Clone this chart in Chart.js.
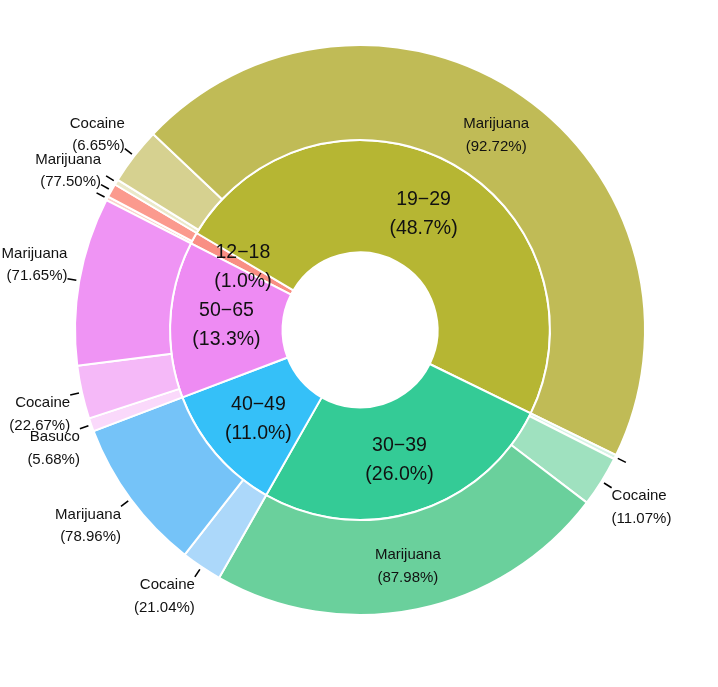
<!DOCTYPE html>
<html>
<head>
<meta charset="utf-8">
<script src="https://cdn.jsdelivr.net/npm/chart.js@4/dist/chart.umd.min.js"></script>
<style>
html,body{margin:0;padding:0;background:#ffffff;}
#wrap{width:718px;height:687px;position:relative;}
</style>
</head>
<body>
<div id="wrap"><canvas id="c" width="718" height="687"></canvas></div>
<script>
// ---- data ----
const ageGroups = ['12−18', '19−29', '30−39', '40−49', '50−65'];
const agePercents = [1.0, 48.7, 26.0, 11.0, 13.3];

const drugs_12_18 = ['Cocaine', 'Marijuana'];
const pct_12_18 = [22.50, 77.50];
const drugs_19_29 = ['Basuco', 'Cocaine', 'Marijuana'];
const pct_19_29 = [0.63, 6.65, 92.72];
const drugs_30_39 = ['Basuco', 'Cocaine', 'Marijuana'];
const pct_30_39 = [0.95, 11.07, 87.98];
const drugs_40_49 = ['Cocaine', 'Marijuana'];
const pct_40_49 = [21.04, 78.96];
const drugs_50_65 = ['Basuco', 'Cocaine', 'Marijuana'];
const pct_50_65 = [5.68, 22.67, 71.65];

// ---- styles ----
const innerColors = ['#f98f84', '#b6b633', '#34cb96', '#35c0f8', '#ee8bf3'];
const outerColors_12_18 = ['#fcd2cb', '#fb9a8e'];
const outerColors_19_29 = ['#ebe9c9', '#d6d190', '#c0bb56'];
const outerColors_30_39 = ['#d6f3e5', '#9fe1bf', '#6ad09c'];
const outerColors_40_49 = ['#acd8fa', '#75c3f8'];
const outerColors_50_65 = ['#fad9fb', '#f5b9f8', '#ef94f4'];

// ---- build ----
const groupDrugs = [drugs_12_18, drugs_19_29, drugs_30_39, drugs_40_49, drugs_50_65];
const groupPcts = [pct_12_18, pct_19_29, pct_30_39, pct_40_49, pct_50_65];
const groupColors = [outerColors_12_18, outerColors_19_29, outerColors_30_39, outerColors_40_49, outerColors_50_65];

const outerLabels = [], outerLocalPct = [], outerShares = [], outerBg = [];
groupDrugs.forEach((names, g) => {
  names.forEach((n, j) => {
    outerLabels.push(n);
    outerLocalPct.push(groupPcts[g][j]);
    outerShares.push(agePercents[g] * groupPcts[g][j] / 100);
    outerBg.push(groupColors[g][j]);
  });
});

const FONT = '"Liberation Sans", Arial, Helvetica, sans-serif';
const DY = 2;

const labelPlugin = {
  id: 'sunLabels',
  afterDatasetsDraw(chart) {
    const ctx = chart.ctx;
    ctx.save();
    ctx.fillStyle = '#111';
    // outer ring
    const om = chart.getDatasetMeta(0);
    om.data.forEach((arc, i) => {
      const p = arc.getProps(['x', 'y', 'startAngle', 'endAngle', 'innerRadius', 'outerRadius'], true);
      const mid = (p.startAngle + p.endAngle) / 2;
      const c = Math.cos(mid), s = Math.sin(mid);
      const share = outerShares[i];
      const l1 = outerLabels[i];
      const l2 = '(' + outerLocalPct[i].toFixed(2) + '%)';
      ctx.font = '15px ' + FONT;
      if (share > 15) {
        const r = (p.innerRadius + p.outerRadius) / 2 + 1.5;
        const cx = p.x + r * c, cy = p.y + r * s;
        ctx.textAlign = 'center';
        ctx.textBaseline = 'middle';
        ctx.fillText(l1, cx, cy - 11.3 + DY);
        ctx.fillText(l2, cx, cy + 11.3 + DY);
        return;
      }
      const r0 = p.outerRadius + 3, r1 = p.outerRadius + 12;
      ctx.strokeStyle = '#000';
      ctx.lineWidth = 1.6;
      ctx.beginPath();
      ctx.moveTo(p.x + r0 * c, p.y + r0 * s);
      ctx.lineTo(p.x + r1 * c, p.y + r1 * s);
      ctx.stroke();
      if (share >= 0.5) {
        const ax = p.x + r1 * c, ay = p.y + r1 * s;
        ctx.textAlign = c >= 0 ? 'left' : 'right';
        ctx.textBaseline = 'middle';
        if (s > 0) {
          ctx.fillText(l1, ax, ay + 6.3 + DY);
          ctx.fillText(l2, ax, ay + 29 + DY);
        } else {
          ctx.fillText(l1, ax, ay - 27.2 + DY);
          ctx.fillText(l2, ax, ay - 4.5 + DY);
        }
      }
    });
    // inner ring
    const im = chart.getDatasetMeta(1);
    im.data.forEach((arc, i) => {
      const p = arc.getProps(['x', 'y', 'startAngle', 'endAngle', 'innerRadius', 'outerRadius'], true);
      const mid = (p.startAngle + p.endAngle) / 2;
      const r = (p.innerRadius + p.outerRadius) / 2;
      const cx = p.x + r * Math.cos(mid), cy = p.y + r * Math.sin(mid);
      ctx.font = '19.5px ' + FONT;
      ctx.textAlign = 'center';
      ctx.textBaseline = 'middle';
      ctx.fillText(ageGroups[i], cx, cy - 14.5 + DY);
      ctx.fillText('(' + agePercents[i].toFixed(1) + '%)', cx, cy + 14.5 + DY);
    });
    ctx.restore();
  }
};

new Chart(document.getElementById('c'), {
  type: 'doughnut',
  data: {
    labels: outerLabels,
    datasets: [
      {
        label: 'Drug',
        data: outerShares,
        backgroundColor: outerBg,
        borderColor: '#ffffff',
        borderWidth: 2,
        weight: 95
      },
      {
        label: 'Age group',
        data: agePercents,
        backgroundColor: innerColors,
        borderColor: '#ffffff',
        borderWidth: 2,
        weight: 112.5
      }
    ]
  },
  options: {
    responsive: false,
    animation: false,
    radius: 285,
    cutout: (77.5 / 285 * 100) + '%',
    rotation: -62.9,
    layout: { padding: { left: 40, right: 38, top: 20, bottom: 47 } },
    plugins: {
      legend: { display: false },
      tooltip: { enabled: false },
      title: { display: false }
    }
  },
  plugins: [labelPlugin]
});
</script>
</body>
</html>
